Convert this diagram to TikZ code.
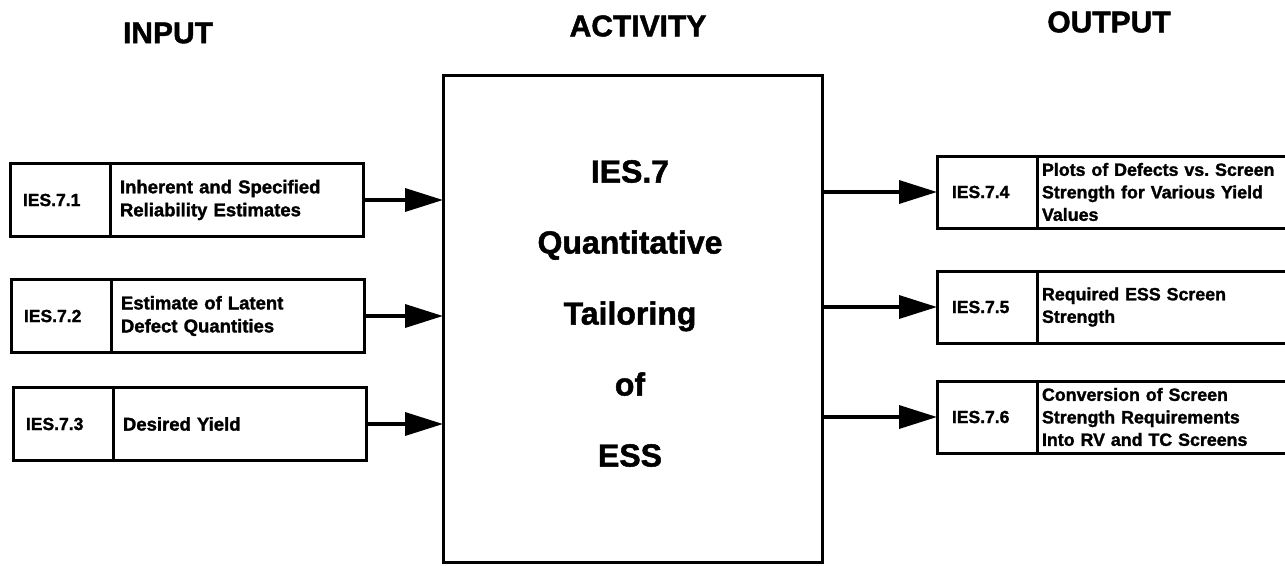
\documentclass[tikz,border=0pt]{standalone}
\usepackage{fontspec}
\setmainfont{Liberation Sans}[BoldFeatures={FakeBold=1.5}]
\usetikzlibrary{arrows.meta}
\tikzset{
  bx/.style={draw, line width=3pt, outer sep=0pt, inner ysep=0pt, align=left},
  lbl/.style={bx, minimum height=73pt, text width=74pt, inner xsep=13pt, font=\fontsize{17.5}{22}\selectfont\bfseries},
  desc/.style={bx, minimum height=73pt, text width=233pt, inner xsep=10pt, font=\fontsize{18.5}{23}\selectfont\bfseries},
  rlbl/.style={bx, minimum height=72pt, text width=70pt, inner xsep=15pt, font=\fontsize{17.5}{22}\selectfont\bfseries},
  rdesc/.style={bx, minimum height=72pt, text width=253pt, inner xsep=5pt, font=\fontsize{17.8}{22.5}\selectfont\bfseries},
  hdr/.style={font=\fontsize{30}{36}\selectfont\bfseries, inner sep=0pt},
  arr/.style={line width=3.5pt, -{Triangle[length=38pt,width=23pt]}},
}
\begin{document}
\begin{tikzpicture}[x=1pt,y=-1pt]
\clip (0,0) rectangle (1285,565);
\fill[white] (0,0) rectangle (1285,565);

% headers
\node[hdr] (hin) at (168,33) {INPUT};
\node[hdr] (hact) at (638,26) {ACTIVITY};
\node[hdr] (hout) at (1109,22) {OUTPUT};

% activity box
\node[draw, line width=3pt, outer sep=0pt, minimum width=379pt, minimum height=487pt] (act) at (632.5,318.5) {};
\node[font=\fontsize{32}{71}\selectfont\bfseries, align=center, inner sep=0pt] (acttxt) at (630,313.5)
  {IES.7\\Quantitative\\Tailoring\\of\\ESS};

% input boxes
\node[lbl, anchor=west] (l1) at (10,200) {IES.7.1};
\node[desc, anchor=west] (d1) at (l1.east) {Inherent and Specified\\Reliability Estimates};
\node[lbl, anchor=west] (l2) at (11,316) {IES.7.2};
\node[desc, anchor=west] (d2) at (l2.east) {Estimate of Latent\\Defect Quantities};
\node[lbl, anchor=west] (l3) at (13,424) {IES.7.3};
\node[desc, anchor=west] (d3) at (l3.east) {Desired Yield};

% output boxes
\node[rlbl, anchor=west] (r1) at (937,192) {IES.7.4};
\node[rdesc, anchor=west] (o1) at (r1.east) {Plots of Defects vs.\ Screen\\Strength for Various Yield\\Values};
\node[rlbl, anchor=west] (r2) at (937,307) {IES.7.5};
\node[rdesc, anchor=west] (o2) at (r2.east) {Required ESS Screen\\Strength};
\node[rlbl, anchor=west] (r3) at (937,417) {IES.7.6};
\node[rdesc, anchor=west] (o3) at (r3.east) {Conversion of Screen\\Strength Requirements\\Into RV and TC Screens};

% arrows
\draw[arr] (d1.east) -- (d1.east -| act.west);
\draw[arr] (d2.east) -- (d2.east -| act.west);
\draw[arr] (d3.east) -- (d3.east -| act.west);
\draw[arr] (r1.west -| act.east) -- (r1.west);
\draw[arr] (r2.west -| act.east) -- (r2.west);
\draw[arr] (r3.west -| act.east) -- (r3.west);
\end{tikzpicture}
\end{document}
